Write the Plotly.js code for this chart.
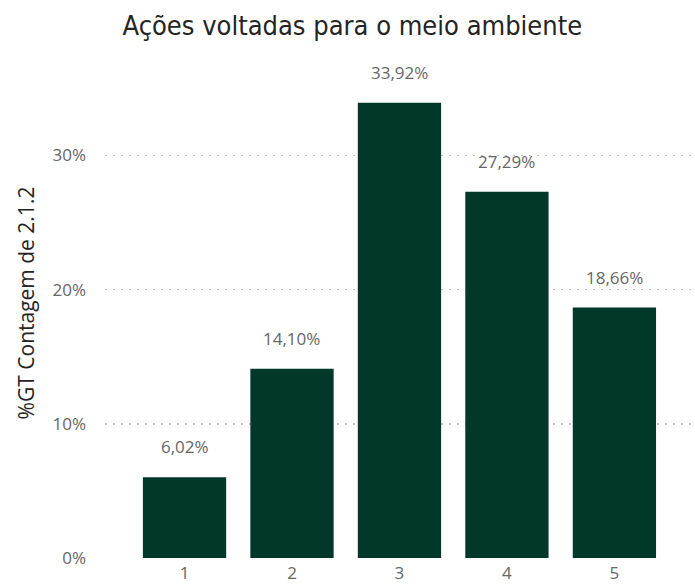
<!DOCTYPE html>
<html><head><meta charset="utf-8">
<script src="https://cdn.plot.ly/plotly-3.0.1.min.js"></script>
<style>html,body{margin:0;padding:0;background:#fff}#c{width:695px;height:586px}</style>
</head><body><div id="c"></div>
<script>
const categories = ["1","2","3","4","5"];
const values = [6.02, 14.10, 33.92, 27.29, 18.66];
const yTickVals = [0, 10, 20, 30];
const yTickText = ["0%","10%","20%","30%"];

const fmt = v => v.toFixed(2).replace('.', ',') + '%';
const annotations = categories.map((c, i) => ({
  x: i, y: values[i], xref: 'x', yref: 'y', text: fmt(values[i]),
  showarrow: false, yanchor: 'bottom', yshift: 17,
  font: {family: 'Open Sans, Noto Sans, sans-serif', size: 17, color: '#666666'}
}));

Plotly.newPlot('c', [{
  type: 'bar',
  x: categories,
  y: values,
  marker: {color: '#01382A', line: {width: 0}},
  hoverinfo: 'skip'
}], {
  width: 695, height: 586,
  separators: ',.',
  margin: {l: 105, r: 0, t: 48, b: 28},
  paper_bgcolor: '#fff', plot_bgcolor: '#fff',
  bargap: 0.225,
  annotations: annotations,
  title: {text: 'Ações voltadas para o meio ambiente', x: 0.507, xanchor: 'center', y: 0.957, yanchor: 'middle',
          font: {family: 'DejaVu Sans Condensed, Roboto, sans-serif', size: 27, color: '#252423'}},
  xaxis: {type: 'category', range: [-0.74, 4.75], showgrid: false, zeroline: false, showline: false,
          ticks: '', ticklabelstandoff: 3,
          tickfont: {family: 'Open Sans, Noto Sans, sans-serif', size: 17, color: '#666666'}},
  yaxis: {range: [0, 38], tickvals: yTickVals, ticktext: yTickText, showgrid: true, gridcolor: '#c0c0c0',
          griddash: '2px,6px', gridwidth: 1.5, zeroline: false, showline: false, ticks: '', ticklabelstandoff: 18,
          tickfont: {family: 'Open Sans, Noto Sans, sans-serif', size: 17, color: '#666666'},
          title: {text: '%GT Contagem de 2.1.2', standoff: 12,
                  font: {family: 'Open Sans, Noto Sans, sans-serif', size: 21, color: '#252423'}}},
  showlegend: false
}, {displayModeBar: false, staticPlot: true});
</script></body></html>
